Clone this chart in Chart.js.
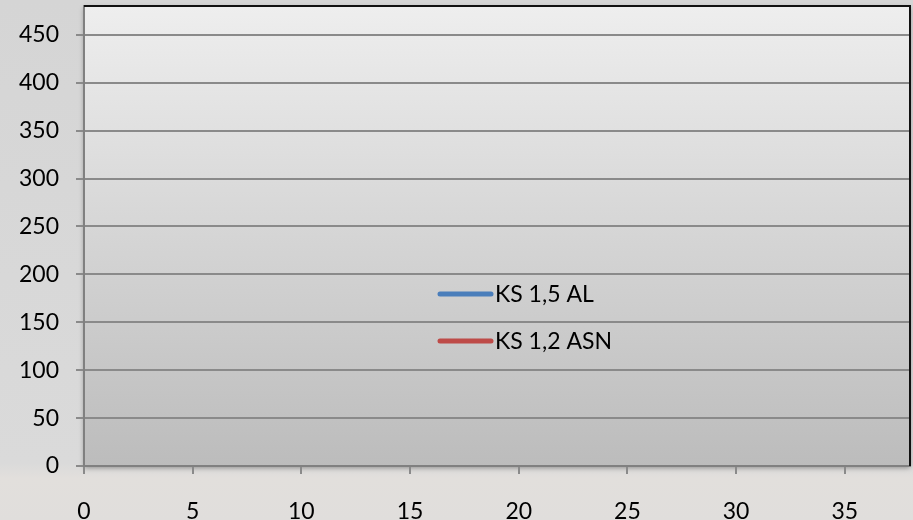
<!DOCTYPE html>
<html>
<head>
<meta charset="utf-8">
<script src="https://cdn.jsdelivr.net/npm/chart.js@4/dist/chart.umd.min.js"></script>
<style>
  html, body { margin: 0; padding: 0; background: #d8d8d8; }
  #wrap { width: 913px; height: 520px; position: relative; }
</style>
</head>
<body>
<div id="wrap"><canvas id="c" width="913" height="520"></canvas></div>
<script>
// Series names and their (empty) point lists
const seriesNames = ['KS 1,5 AL', 'KS 1,2 ASN'];
const seriesColors = ['#4a7ebb', '#be4b48'];
const ks15al = [];
const ks12asn = [];
// Axis ranges and tick steps
const xRange = [0, 38];
const xStep = 5;
const yRange = [0, 480];
const yStep = 50;

const FONT = "Lato, 'Open Sans', sans-serif";

// Page + plot-area backgrounds
const backdrop = {
  id: 'backdrop',
  beforeDraw(chart) {
    const { ctx, chartArea: a, width, height } = chart;
    ctx.save();
    const g0 = ctx.createLinearGradient(0, 0, 0, height);
    g0.addColorStop(0, '#d5d5d5');
    g0.addColorStop(0.89, '#dadada');
    g0.addColorStop(0.92, '#e2dfdc');
    g0.addColorStop(1, '#e0dedc');
    ctx.fillStyle = g0;
    ctx.fillRect(0, 0, width, height);
    // soft shadow under the plot
    ctx.shadowColor = 'rgba(0,0,0,0.35)';
    ctx.shadowBlur = 5;
    ctx.shadowOffsetY = 2;
    const g = ctx.createLinearGradient(0, a.top, 0, a.bottom);
    g.addColorStop(0, '#eeeeee');
    g.addColorStop(1, '#bcbcbc');
    ctx.fillStyle = g;
    ctx.fillRect(a.left, a.top, a.right - a.left, a.bottom - a.top);
    ctx.restore();
  },
  afterDraw(chart) {
    const { ctx, chartArea: a } = chart;
    ctx.save();
    ctx.strokeStyle = '#111111';
    ctx.lineWidth = 2;
    ctx.beginPath();
    ctx.moveTo(a.left, a.top);
    ctx.lineTo(a.right, a.top);
    ctx.lineTo(a.right, a.bottom);
    ctx.stroke();
    ctx.restore();
  }
};

// Legend drawn inside the plot, one row per dataset
const innerLegend = {
  id: 'innerLegend',
  afterDatasetsDraw(chart) {
    const { ctx, chartArea: a } = chart;
    const x0 = a.left + 353;
    const y0 = a.top + 288;
    const rowGap = 47;
    ctx.save();
    ctx.font = "23px " + FONT;
    ctx.textBaseline = 'middle';
    ctx.lineCap = 'round';
    chart.data.datasets.forEach((ds, i) => {
      const y = y0 + i * rowGap;
      ctx.strokeStyle = ds.borderColor;
      ctx.lineWidth = 5;
      ctx.beginPath();
      ctx.moveTo(x0 + 3, y);
      ctx.lineTo(x0 + 54, y);
      ctx.stroke();
      ctx.fillStyle = '#000000';
      ctx.fillText(ds.label, x0 + 58, y + 1);
    });
    ctx.restore();
  }
};

new Chart(document.getElementById('c'), {
  type: 'line',
  data: {
    datasets: [
      { label: seriesNames[0], data: ks15al, borderColor: seriesColors[0], backgroundColor: seriesColors[0], borderWidth: 3, pointRadius: 0 },
      { label: seriesNames[1], data: ks12asn, borderColor: seriesColors[1], backgroundColor: seriesColors[1], borderWidth: 3, pointRadius: 0 }
    ]
  },
  options: {
    responsive: false,
    animation: false,
    layout: { padding: { top: 6, right: 3, left: 0, bottom: 0 } },
    plugins: { legend: { display: false }, tooltip: { enabled: false } },
    scales: {
      x: {
        type: 'linear',
        min: xRange[0],
        max: xRange[1],
        afterBuildTicks(scale) {
          scale.ticks = scale.ticks.filter(t => t.value % xStep === 0);
        },
        ticks: { stepSize: xStep, color: '#000', font: { family: FONT, size: 23 }, padding: 24, maxRotation: 0 },
        grid: { drawOnChartArea: false, drawTicks: true, tickLength: 8, color: '#8a8a8a', lineWidth: 2 },
        border: { display: true, color: '#808080', width: 2 },
        afterFit(scale) { scale.height = 54; scale.paddingLeft = 0; scale.paddingRight = 0; }
      },
      y: {
        type: 'linear',
        min: yRange[0],
        max: yRange[1],
        afterBuildTicks(scale) {
          scale.ticks = scale.ticks.filter(t => t.value % yStep === 0);
        },
        ticks: { stepSize: yStep, color: '#000', font: { family: FONT, size: 23 }, padding: 17 },
        grid: { drawTicks: true, tickLength: 8, color: '#8a8a8a', lineWidth: 2 },
        border: { display: true, color: '#808080', width: 2 },
        afterFit(scale) { scale.width = 84; scale.paddingTop = 0; scale.paddingBottom = 0; }
      }
    }
  },
  plugins: [backdrop, innerLegend]
});
</script>
</body>
</html>
